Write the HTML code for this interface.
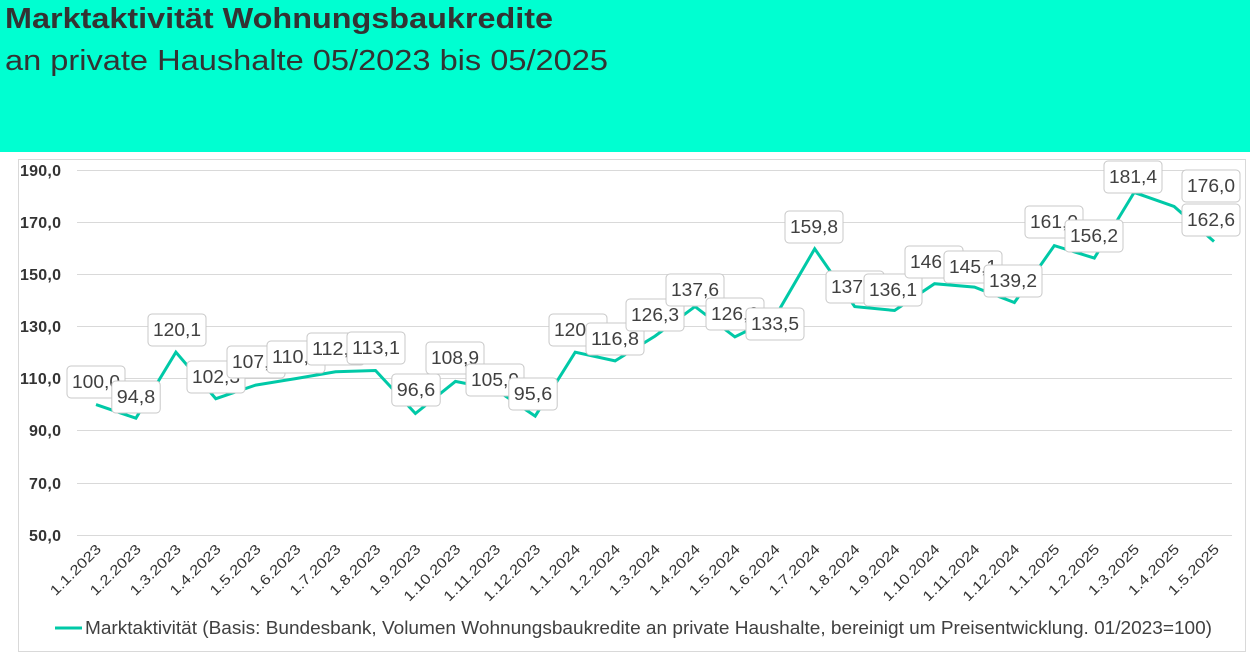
<!DOCTYPE html>
<html><head><meta charset="utf-8"><style>
body{margin:0;width:1250px;height:655px;background:#fff;overflow:hidden;font-family:"Liberation Sans",sans-serif}
.hdr{position:absolute;left:0;top:0;width:1250px;height:152px;background:#00FFD1}
svg{position:absolute;left:0;top:0}
</style></head><body>
<div class="hdr"></div>
<svg width="1250" height="655" font-family="Liberation Sans, sans-serif">
<text x="5" y="28" font-size="29" font-weight="bold" fill="#333" textLength="548" lengthAdjust="spacingAndGlyphs">Marktaktivität Wohnungsbaukredite</text>
<text x="5" y="70" font-size="29" fill="#333" textLength="603" lengthAdjust="spacingAndGlyphs">an private Haushalte 05/2023 bis 05/2025</text>
<rect x="18.5" y="159.5" width="1227" height="492" fill="none" stroke="#d9d9d9"/>
<g stroke="#d9d9d9" stroke-width="1">
<line x1="77" x2="1232" y1="170.5" y2="170.5"/><line x1="77" x2="1232" y1="222.5" y2="222.5"/>
<line x1="77" x2="1232" y1="274.5" y2="274.5"/><line x1="77" x2="1232" y1="326.5" y2="326.5"/>
<line x1="77" x2="1232" y1="378.5" y2="378.5"/><line x1="77" x2="1232" y1="430.5" y2="430.5"/>
<line x1="77" x2="1232" y1="483.5" y2="483.5"/><line x1="77" x2="1232" y1="535.5" y2="535.5"/>
</g>
<g font-size="16" font-weight="bold" fill="#333" text-anchor="end">
<text x="61" y="176" textLength="41">190,0</text><text x="61" y="228" textLength="41">170,0</text><text x="61" y="280" textLength="41">150,0</text>
<text x="61" y="332" textLength="41">130,0</text><text x="61" y="384" textLength="41">110,0</text><text x="61" y="436" textLength="32">90,0</text>
<text x="61" y="489" textLength="32">70,0</text><text x="61" y="541" textLength="32">50,0</text>
</g>
<g id="xl" font-size="14" fill="#333" text-anchor="end"></g>
<polyline id="ln" fill="none" stroke="#00C9A7" stroke-width="3" stroke-linejoin="miter"/>
<g id="lb" font-size="18" fill="#404040"></g>
<line x1="55" x2="82" y1="628" y2="628" stroke="#00C9A7" stroke-width="3"/>
<text x="85" y="634" font-size="18" fill="#404040" textLength="1127" lengthAdjust="spacingAndGlyphs">Marktaktivität (Basis: Bundesbank, Volumen Wohnungsbaukredite an private Haushalte, bereinigt um Preisentwicklung. 01/2023=100)</text>
</svg>
<script>
var v=[100.0,94.8,120.1,102.3,107.5,110.0,112.6,113.1,96.6,108.9,105.9,95.6,120.1,116.8,126.3,137.6,126.0,133.5,159.8,137.6,136.1,146.4,145.1,139.2,161.0,156.2,181.4,176.0,162.6];
var c=[[96,382],[136,397],[177,330],[216,377],[256,362],[296,357],[336,349],[376,348],[416,390],[455,358],[495,380],[533,394],[578,330],[615,339],[655,315],[695,290],[735,314],[775,324],[814,227],[855,287],[893,290],[934,262],[973,267],[1013,281],[1054,222],[1094,236],[1133,177],[1211,186],[1211,220]];
var ns="http://www.w3.org/2000/svg",pts=[],xl=document.getElementById("xl"),lb=document.getElementById("lb");
for(var i=0;i<v.length;i++){var x=96+i*39.93,y=535-(v[i]-50)*2.607;pts.push(x.toFixed(1)+","+y.toFixed(1));
var yr=2023+Math.floor(i/12),mo=i%12+1;var s="1."+mo+"."+yr;
var t=document.createElementNS(ns,"text");t.setAttribute("transform","translate("+(x+6)+",550) rotate(-45)");t.setAttribute("textLength",s.length*8.2);t.setAttribute("lengthAdjust","spacingAndGlyphs");t.textContent=s;xl.appendChild(t);}
document.getElementById("ln").setAttribute("points",pts.join(" "));
for(var i=0;i<v.length;i++){var s=v[i].toFixed(1).replace(".",","),tl=s.length*9.6,w=tl+10,cx=c[i][0],cy=c[i][1];
var g=document.createElementNS(ns,"g");var r=document.createElementNS(ns,"rect");
r.setAttribute("x",cx-w/2);r.setAttribute("y",cy-16);r.setAttribute("width",w);r.setAttribute("height",32);r.setAttribute("rx",4);
r.setAttribute("fill","#fff");r.setAttribute("stroke","#c8c8c8");g.appendChild(r);
var t=document.createElementNS(ns,"text");t.setAttribute("x",cx-tl/2);t.setAttribute("y",cy+6);t.setAttribute("textLength",tl);t.setAttribute("lengthAdjust","spacingAndGlyphs");t.textContent=s;g.appendChild(t);lb.appendChild(g);}
</script>
</body></html>
